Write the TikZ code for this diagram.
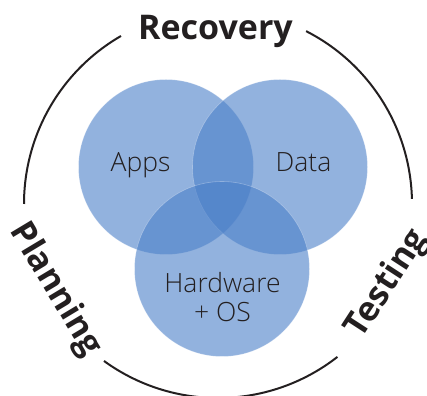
\documentclass[tikz,border=0pt]{standalone}
\usepackage{fontspec}
\setmainfont{Open Sans}
\newfontfamily\lightfont{Open Sans Light}
\definecolor{vennblue}{RGB}{74,127,200}
\definecolor{ink}{RGB}{35,31,32}
\tikzset{
  venn/.style={fill=vennblue,fill opacity=.6,draw=white,draw opacity=.3,line width=.6pt},
  ring/.style={draw=ink,line width=2pt},
  phase/.style={inner sep=0pt,text=ink,font=\fontsize{34}{40}\selectfont\bfseries},
  part/.style={inner sep=0pt,text=ink,align=center,font=\lightfont\fontsize{26.5}{29.5}\selectfont}
}
\begin{document}
\begin{tikzpicture}[x=1pt,y=1pt]
\useasboundingbox (0,0) rectangle (427,395);
\coordinate (origin) at (218,191);
\coordinate (apps) at (166,228);
\coordinate (data) at (280,228);
\coordinate (hw) at (222,126);
\filldraw[venn] (apps) circle [radius=87.5];
\filldraw[venn] (data) circle [radius=87.5];
\filldraw[venn] (hw) circle [radius=87.5];
\draw[ring] (origin) ++(120:194) arc [start angle=120,end angle=180,radius=194];
\draw[ring] (origin) ++(63:194) arc [start angle=63,end angle=1.5,radius=194];
\draw[ring] (origin) ++(234:194) arc [start angle=234,end angle=308,radius=194];
\node[part,anchor=base] (appslabel) at (140.5,223) {Apps};
\node[part,anchor=base] (datalabel) at (303.5,223) {Data};
\node[part] (hwlabel) at (222.5,98) {Hardware\\+ OS};
\node[phase,anchor=base] (recovery) at (215.5,355.7) {Recovery};
\node[phase,rotate=-59] (planning) at (55,105) {Planning};
\node[phase,rotate=57] (testing) at (387.5,111) {Testing};
\end{tikzpicture}
\end{document}
